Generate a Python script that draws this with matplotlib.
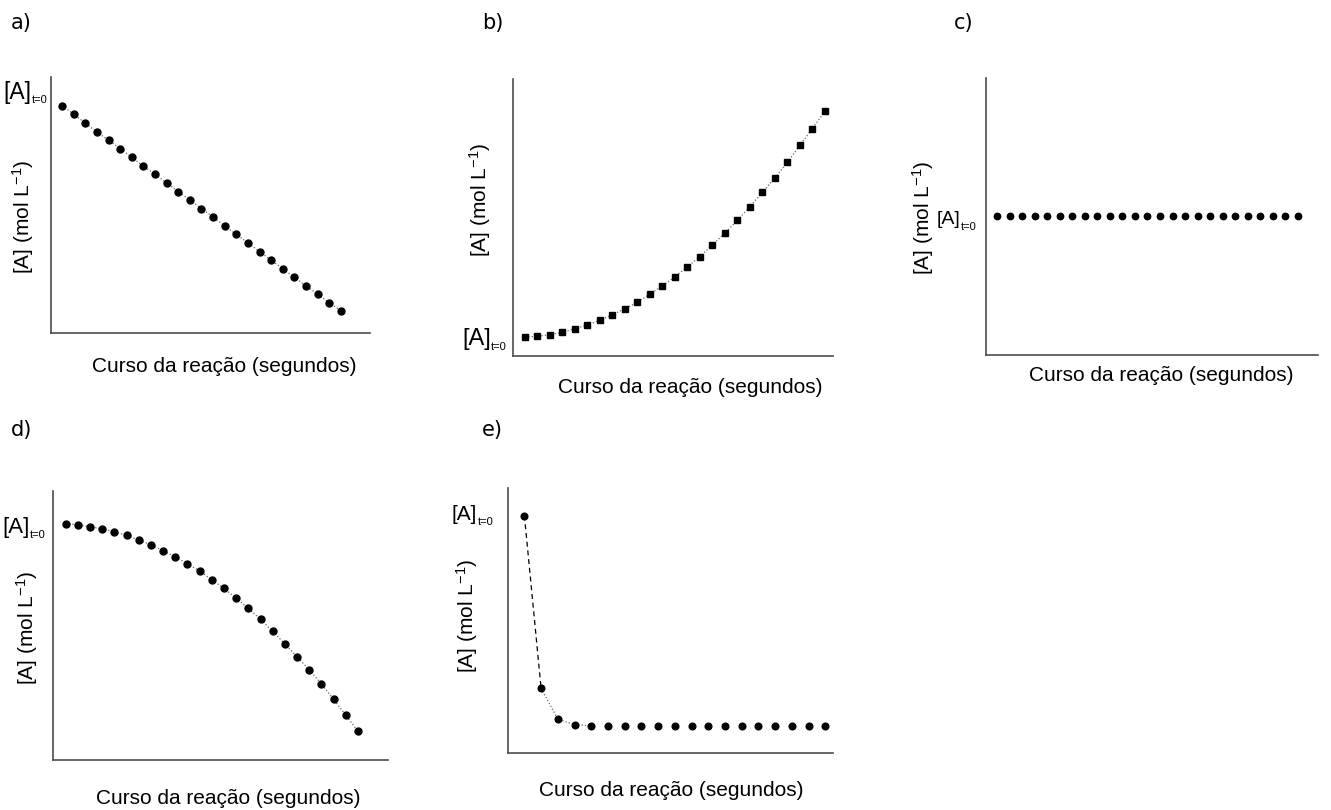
import numpy as np
import matplotlib
matplotlib.use('Agg')
import matplotlib.pyplot as plt

plt.rcParams['font.family'] = ['Liberation Sans', 'DejaVu Sans']
plt.rcParams['mathtext.fontset'] = 'custom'
plt.rcParams['mathtext.rm'] = 'Liberation Sans'
plt.rcParams['mathtext.it'] = 'Liberation Sans:italic'

W, H = 1331, 810

# concentration (0 = x axis, 100 = top of y axis)
conc_a = [88.8, 85.5, 82.0, 78.5, 75.3, 72.0, 68.6, 65.2, 62.0, 58.6, 55.2, 52.0, 48.6,
          45.3, 41.8, 38.5, 35.2, 31.8, 28.4, 25.1, 21.7, 18.4, 15.1, 11.8, 8.7]
conc_b = [6.9, 7.1, 7.7, 8.5, 9.9, 11.2, 12.9, 14.9, 17.1, 19.4, 22.4, 25.3, 28.6,
          32.2, 35.9, 40.1, 44.4, 49.0, 53.9, 59.1, 64.3, 69.9, 76.1, 82.1, 88.4]
conc_c = [50.0] * 25
conc_d = [87.7, 87.5, 86.7, 86.0, 84.8, 83.5, 81.8, 80.0, 77.8, 75.5, 72.9, 70.3, 67.0,
          63.8, 60.1, 56.4, 52.3, 47.8, 43.2, 38.4, 33.5, 28.3, 22.6, 16.7, 10.7]
conc_e = [89.6, 24.4, 12.8, 10.7, 10.3, 10.2, 10.2, 10.2, 10.2, 10.2, 10.2, 10.2,
          10.2, 10.2, 10.2, 10.2, 10.2, 10.2, 10.2]

xlabel = 'Curso da reação (segundos)'
ylabel = '[A] (mol L$^{-1}$)'


def fx(x):
    return x / W


def fy(y):
    return 1 - y / H


def make_axes(left, top, right, bottom, xlim):
    ax = fig.add_axes([fx(left), fy(bottom), (right - left) / W, (bottom - top) / H])
    ax.set_xlim(xlim)
    ax.set_ylim(0, 100)
    for s in ['top', 'right']:
        ax.spines[s].set_visible(False)
    for s in ['left', 'bottom']:
        ax.spines[s].set_color('0.3')
        ax.spines[s].set_linewidth(1.2)
    ax.set_xticks([])
    ax.set_yticks([])
    return ax


def a0_label(left, cy, size):
    # "[A]" with a small "t=0" subscript right after it
    t = fig.text(fx(left), fy(cy), '[A]', fontsize=size, ha='left', va='center')
    bb = t.get_window_extent(renderer=fig.canvas.get_renderer())
    fig.text(bb.x1 / W + 0.5 / W, fy(cy + 8), 't=0', fontsize=8, ha='left', va='center')


def labels(tag, tag_xy, ylab_xy, xlab_xy):
    fig.text(fx(tag_xy[0]), fy(tag_xy[1]), tag, family='DejaVu Sans', fontsize=15,
             ha='left', va='center')
    fig.text(fx(ylab_xy[0]), fy(ylab_xy[1]), ylabel, fontsize=15, rotation=90,
             ha='center', va='center')
    fig.text(fx(xlab_xy[0]), fy(xlab_xy[1]), xlabel, fontsize=15, ha='center', va='center')


fig = plt.figure(figsize=(W / 100, H / 100), dpi=100)

# a)
ax = make_axes(51, 77, 370, 333, (-0.95, 26.5))
x = np.arange(len(conc_a))
ax.plot(x, conc_a, ls=':', color='0.4', lw=0.9)
ax.plot(x, conc_a, 'o', color='black', ms=5, ls='none')
labels('a)', (11, 23), (23, 217), (224, 367))
a0_label(3, 92, 16.5)

# b)
ax = make_axes(513, 79, 833, 356, (-0.96, 24.65))
x = np.arange(len(conc_b))
ax.plot(x, conc_b, ls=':', color='0.4', lw=0.9)
ax.plot(x, conc_b, 's', color='black', ms=4.3, ls='none')
labels('b)', (482, 23), (480, 200), (690, 387))
a0_label(462, 339, 17)

# c)
ax = make_axes(986, 78, 1318, 355, (-0.88, 25.6))
x = np.arange(len(conc_c))
ax.plot(x, conc_c, 'o', color='black', ms=4.6, ls='none')
labels('c)', (954, 23), (923, 218), (1161, 375))
a0_label(937, 219, 14)

# d)
ax = make_axes(53, 491, 388, 760, (-1.04, 26.47))
x = np.arange(len(conc_d))
ax.plot(x, conc_d, ls=':', color='0.4', lw=0.9)
ax.plot(x, conc_d, 'o', color='black', ms=5, ls='none')
labels('d)', (11, 430), (27, 628), (228, 798))
a0_label(2, 527, 16)

# e)
ax = make_axes(508, 488, 833, 753, (-0.98, 18.46))
x = np.arange(len(conc_e))
ax.plot(x[:2], conc_e[:2], ls=(0, (4, 3)), color='black', lw=0.9)
ax.plot(x[1:5], conc_e[1:5], ls=':', color='0.4', lw=0.9)
ax.plot(x, conc_e, 'o', color='black', ms=4.8, ls='none')
labels('e)', (482, 430), (467, 616), (671, 790))
a0_label(452, 514, 15)

fig.savefig('out.png', dpi=100)
